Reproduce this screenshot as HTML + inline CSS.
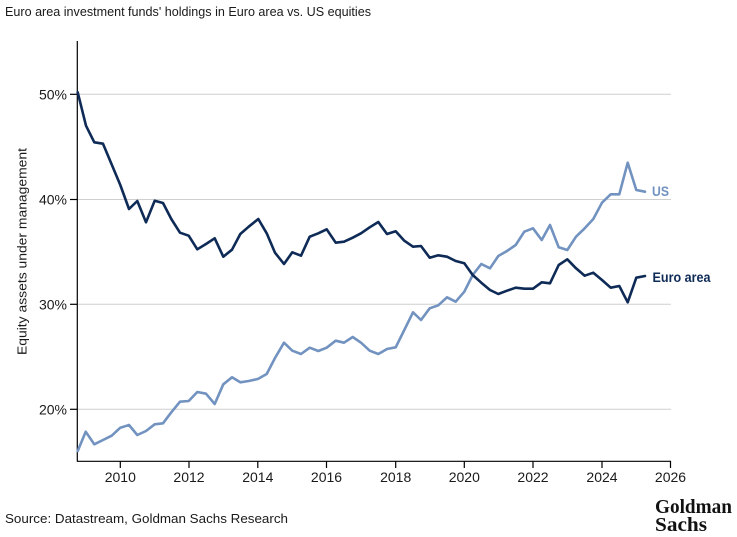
<!DOCTYPE html>
<html>
<head>
<meta charset="utf-8">
<style>
  html, body { margin: 0; padding: 0; background: #ffffff; }
  body { width: 737px; height: 537px; overflow: hidden; }
  svg { display: block; }
  text { font-family: "Liberation Sans", sans-serif; fill: #1a1a1a; }
</style>
</head>
<body>
<svg width="737" height="537" viewBox="0 0 737 537" xmlns="http://www.w3.org/2000/svg">
  <!-- Title -->
  <text x="5" y="16" font-size="13" textLength="366" lengthAdjust="spacingAndGlyphs">Euro area investment funds' holdings in Euro area vs. US equities</text>

  <!-- Gridlines -->
  <g stroke="#cfcfcf" stroke-width="1">
    <line x1="77" y1="94.3" x2="671" y2="94.3"/>
    <line x1="77" y1="199.5" x2="671" y2="199.5"/>
    <line x1="77" y1="304.3" x2="671" y2="304.3"/>
    <line x1="77" y1="409.3" x2="671" y2="409.3"/>
  </g>

  <!-- Axes -->
  <g stroke="#000" stroke-width="1.2">
    <line x1="77.3" y1="41" x2="77.3" y2="461.5"/>
    <line x1="77" y1="461.3" x2="671" y2="461.3"/>
    <line x1="70" y1="94.3" x2="77.3" y2="94.3"/>
    <line x1="70" y1="199.5" x2="77.3" y2="199.5"/>
    <line x1="70" y1="304.3" x2="77.3" y2="304.3"/>
    <line x1="70" y1="409.3" x2="77.3" y2="409.3"/>
    <line x1="120.3" y1="461" x2="120.3" y2="468"/>
    <line x1="189" y1="461" x2="189" y2="468"/>
    <line x1="257.8" y1="461" x2="257.8" y2="468"/>
    <line x1="326.5" y1="461" x2="326.5" y2="468"/>
    <line x1="395.7" y1="461" x2="395.7" y2="468"/>
    <line x1="464.3" y1="461" x2="464.3" y2="468"/>
    <line x1="533" y1="461" x2="533" y2="468"/>
    <line x1="602" y1="461" x2="602" y2="468"/>
    <line x1="670.5" y1="461" x2="670.5" y2="468"/>
  </g>

  <!-- Y tick labels -->
  <g font-size="14" text-anchor="end">
    <text x="67" y="99.3">50%</text>
    <text x="67" y="204.5">40%</text>
    <text x="67" y="309.3">30%</text>
    <text x="67" y="414.3">20%</text>
  </g>

  <!-- X tick labels -->
  <g font-size="14" text-anchor="middle">
    <text x="120.3" y="482">2010</text>
    <text x="189" y="482">2012</text>
    <text x="257.8" y="482">2014</text>
    <text x="326.5" y="482">2016</text>
    <text x="395.7" y="482">2018</text>
    <text x="464.3" y="482">2020</text>
    <text x="533" y="482">2022</text>
    <text x="602" y="482">2024</text>
    <text x="670.5" y="482">2026</text>
  </g>

  <!-- Y axis title -->
  <text transform="translate(26.5,251.5) rotate(-90)" font-size="13" text-anchor="middle" textLength="207" lengthAdjust="spacingAndGlyphs">Equity assets under management</text>

  <!-- US series -->
  <polyline fill="none" stroke="#7292c0" stroke-width="2.6" stroke-linejoin="round" stroke-linecap="round"
    points="77.7,451 85.7,431.7 94.3,444.3 103,440 111.7,435.7 120.3,427.7 129,425 137.3,435 146,431 154.7,424.3 163,423.3 171.3,412.3 180,401.7 188.7,401 197.3,392 206,393.7 214.7,404 223.3,384.3 232,377.3 240.3,382.3 248.7,381 257.8,379 266.7,374 275,358 284,342.7 292.3,350.7 301,354 309.7,347.7 318.3,351 326.7,347.7 335.7,340.7 344,342.7 352.7,337 361,342.7 369.7,350.7 378.3,354 387,349 395.7,347.3 404.3,330 413,312.3 421,320 429.7,308.3 438.3,305.3 447,297.3 455.7,301.7 464.3,291.7 472.7,275 481.3,264 490,268.3 498.3,256 507,251 515.7,245 524.3,231.7 533,228.3 541.7,240 550,225 558.7,247.3 567.3,250 576,236.7 584.7,228.3 593.3,219 602,202.7 610.7,194.3 619.3,194.3 627.7,162.7 636.3,190 645,191.7"/>

  <!-- Euro area series -->
  <polyline fill="none" stroke="#0e2a56" stroke-width="2.6" stroke-linejoin="round" stroke-linecap="round"
    points="77.7,92.3 86,125.7 94.3,142.3 103,143.7 111.6,164.3 120.3,185 129,209 137.3,201 146,222.3 154.7,200.7 163,203 171.3,219 180,232.7 188.7,235.7 197.3,249.3 206,244 214.7,238.3 223.3,256.7 232,249.7 240.3,234 248.7,226.7 258.3,219 266.7,233.3 275,252.7 284,264 292.3,252.3 301,255.7 309.7,236.7 318.3,233.3 326.7,229.3 335.7,242.7 344,241.7 352.7,237.7 361,233.3 369.7,227.3 378.3,222 387,234 395.7,231.3 404.3,240.7 413,246.7 421,246 429.7,257.7 438.3,255.3 447,256.7 455.7,261 464.3,263.3 472.7,275 481.3,282.7 490,290 498.3,294 507,290.7 515.7,287.7 524.3,288.7 533,288.7 541.7,282.3 550,283.3 558.7,265 567.3,259.3 576,268.3 584.7,275.7 593.3,272.7 602,280 610.7,287.7 619.3,286 627.7,302.3 636.3,277.7 645,276"/>

  <!-- Series labels -->
  <text x="652" y="196" font-size="14" style="fill:#7292c0" font-weight="bold" textLength="17" lengthAdjust="spacingAndGlyphs">US</text>
  <text x="652.5" y="282" font-size="14" style="fill:#0e2a56" font-weight="bold" textLength="58" lengthAdjust="spacingAndGlyphs">Euro area</text>

  <!-- Source -->
  <text x="5" y="523" font-size="13" textLength="283" lengthAdjust="spacingAndGlyphs">Source: Datastream, Goldman Sachs Research</text>

  <!-- Goldman Sachs logo -->
  <g font-weight="bold" font-size="20">
    <text x="655" y="513" style="font-family:'Liberation Serif',serif;fill:#111" textLength="77" lengthAdjust="spacingAndGlyphs">Goldman</text>
    <text x="655" y="531" style="font-family:'Liberation Serif',serif;fill:#111" textLength="52" lengthAdjust="spacingAndGlyphs">Sachs</text>
  </g>
</svg>
</body>
</html>
